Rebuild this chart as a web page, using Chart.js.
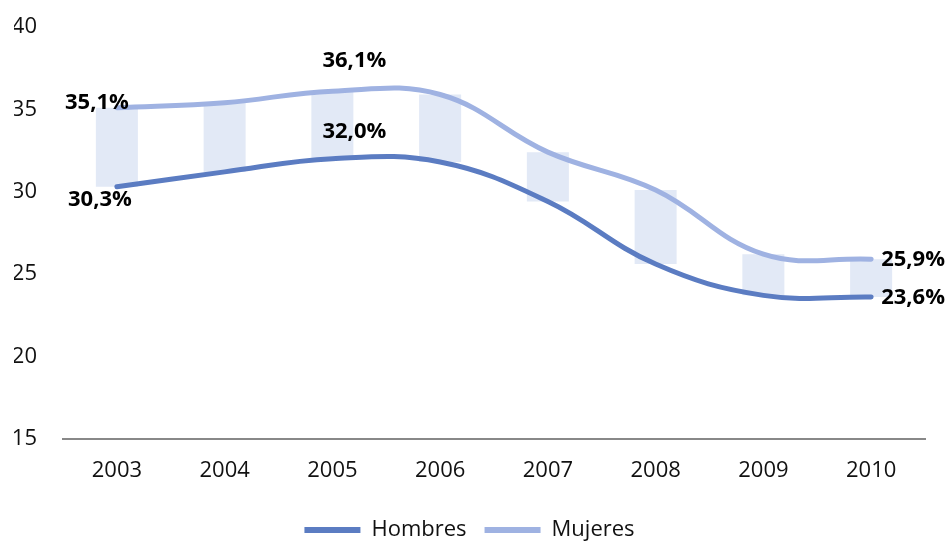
<!DOCTYPE html>
<html>
<head>
<meta charset="utf-8">
<script src="https://cdn.jsdelivr.net/npm/chart.js@4"></script>
<style>
html,body{margin:0;padding:0;background:#fff;}
#wrap{width:950px;height:542px;position:relative;}
</style>
</head>
<body>
<div id="wrap"><canvas id="c"></canvas></div>
<script>
const years = ['2003','2004','2005','2006','2007','2008','2009','2010'];
const hombres = [30.3, 31.2, 32.0, 31.8, 29.4, 25.6, 23.7, 23.6];
const mujeres = [35.1, 35.4, 36.1, 35.9, 32.4, 30.1, 26.2, 25.9];
const yTicks = [15, 20, 25, 30, 35, 40];
const labelIdx = [0, 2, 7];

const ranges = years.map((y, i) => [hombres[i], mujeres[i]]);
const fmt = v => v.toFixed(1).replace('.', ',') + '%';

const labelPlugin = {
  id: 'valueLabels',
  afterDatasetsDraw(chart) {
    const ctx = chart.ctx;
    const xs = chart.scales.x, ys = chart.scales.y;
    ctx.save();
    ctx.font = 'bold 22px "Open Sans"';
    ctx.fillStyle = '#000';
    ctx.textBaseline = 'middle';
    labelIdx.forEach(i => {
      const x = xs.getPixelForValue(i);
      const ym = ys.getPixelForValue(mujeres[i]);
      const yh = ys.getPixelForValue(hombres[i]);
      if (i === 0) {
        ctx.textAlign = 'right';
        ctx.fillText(fmt(mujeres[i]), x + 12, ym - 5);
        ctx.fillText(fmt(hombres[i]), x + 15, yh + 13);
      } else if (i === years.length - 1) {
        ctx.textAlign = 'left';
        ctx.fillText(fmt(mujeres[i]), x + 10, ym + 1);
        ctx.fillText(fmt(hombres[i]), x + 10, yh + 1);
      } else {
        ctx.textAlign = 'center';
        ctx.fillText(fmt(mujeres[i]), x + 22, ym - 30);
        ctx.fillText(fmt(hombres[i]), x + 22, yh - 27);
      }
    });
    ctx.restore();
  }
};

new Chart(document.getElementById('c'), {
  data: {
    labels: years,
    datasets: [
      {
        type: 'bar', label: 'rango', data: ranges,
        backgroundColor: '#e2e9f6', borderWidth: 0,
        barPercentage: 0.39, categoryPercentage: 1, order: 3
      },
      {
        type: 'line', label: 'Hombres', data: hombres,
        borderColor: '#5b7cc2', backgroundColor: '#5b7cc2', borderWidth: 5,
        tension: 0.4, pointRadius: 0, borderCapStyle: 'round', fill: false, order: 1
      },
      {
        type: 'line', label: 'Mujeres', data: mujeres,
        borderColor: '#9fb2e2', backgroundColor: '#9fb2e2', borderWidth: 5,
        tension: 0.4, pointRadius: 0, borderCapStyle: 'round', fill: false, order: 2
      }
    ]
  },
  options: {
    responsive: true,
    maintainAspectRatio: false,
    animation: false,
    layout: { padding: { left: 14, right: 25, top: 27, bottom: -9 } },
    plugins: {
      tooltip: { enabled: false },
      legend: {
        position: 'bottom',
        labels: {
          font: { family: '"Open Sans"', size: 22 },
          color: '#111',
          boxWidth: 56,
          boxHeight: 6,
          padding: 18,
          filter: item => item.text !== 'rango',
          sort: (a, b) => a.datasetIndex - b.datasetIndex,
          generateLabels(chart) {
            const items = Chart.defaults.plugins.legend.labels.generateLabels(chart);
            items.forEach(it => { it.fillStyle = it.strokeStyle; it.lineWidth = 0; });
            return items;
          }
        }
      }
    },
    scales: {
      x: {
        grid: { display: false },
        border: { display: true, color: '#888', width: 2 },
        afterFit(axis) { axis.height += 6; },
        ticks: { font: { family: '"Open Sans"', size: 22 }, color: '#111', padding: 11 }
      },
      y: {
        min: 15, max: 40,
        afterBuildTicks(axis) { axis.ticks = yTicks.map(v => ({ value: v })); },
        afterFit(axis) { axis.width = 49; axis.paddingTop = 0; axis.paddingBottom = 0; },
        grid: { display: false },
        border: { display: false },
        ticks: { font: { family: '"Open Sans"', size: 22 }, color: '#111', padding: 18 }
      }
    }
  },
  plugins: [labelPlugin]
});
</script>
</body>
</html>
